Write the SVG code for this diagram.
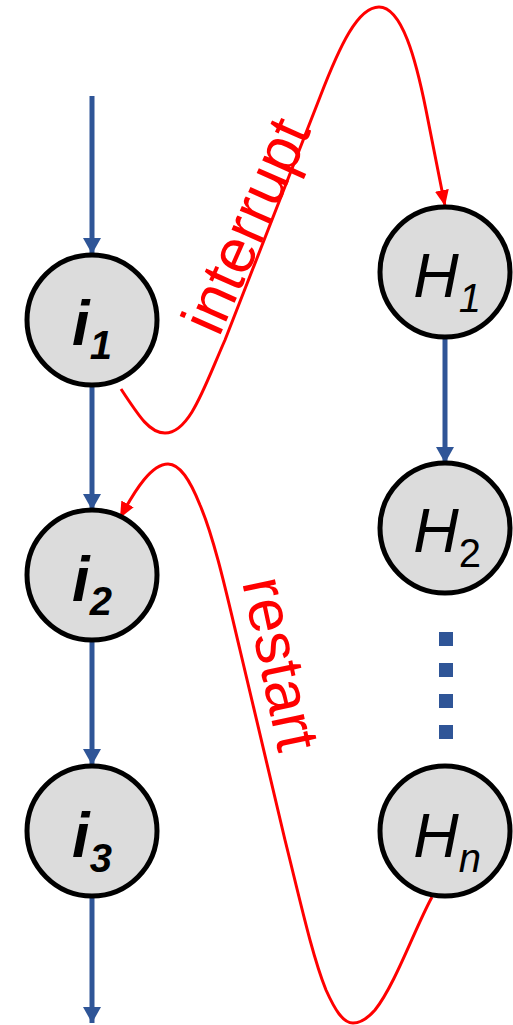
<svg xmlns="http://www.w3.org/2000/svg" width="513" height="1025" viewBox="0 0 513 1025">
<style>
.node circle{fill:#dcdcdc;stroke:#000;stroke-width:5}
.lbl{font-family:"Liberation Sans",Arial,sans-serif;font-size:63px;font-style:italic;fill:#000}
.b{font-weight:bold}
.sub{font-size:40px}
.blue{stroke:#2F5597;stroke-width:5;fill:none}
.red{stroke:#FF0000;stroke-width:3;fill:none}
.rlbl{font-family:"Liberation Sans",Arial,sans-serif;font-size:62px;fill:#FF0000}
</style>
<defs>
<marker id="ab" markerUnits="userSpaceOnUse" markerWidth="18" markerHeight="18" refX="16" refY="9" orient="auto" viewBox="0 0 18 18"><path d="M0,0 L16,9 L0,18 Z" fill="#2F5597"/></marker>
<marker id="ar" markerUnits="userSpaceOnUse" markerWidth="16" markerHeight="14" refX="16" refY="7" orient="auto" viewBox="0 0 16 14"><path d="M0,0 L16,7 L0,14 Z" fill="#FF0000"/></marker>
</defs>
<g id="connectors">
<line class="blue" x1="92" y1="96" x2="92" y2="254" marker-end="url(#ab)"/>
<line class="blue" x1="92" y1="386" x2="92" y2="510" marker-end="url(#ab)"/>
<line class="blue" x1="92" y1="641" x2="92" y2="765" marker-end="url(#ab)"/>
<line class="blue" x1="92" y1="897" x2="92" y2="1023" marker-end="url(#ab)"/>
<line class="blue" x1="445" y1="338" x2="445" y2="463" marker-end="url(#ab)"/>
<line x1="446" y1="632" x2="446" y2="739" stroke="#2F5597" stroke-width="14" stroke-dasharray="14 17"/>
<path id="interrupt" class="red" d="M121,389 C140,418 150,433 165,433 C190,433 205,385 225,340 L320,97 C340,45 358,7 379,7 C402,7 416,60 426,110 L445,206" marker-end="url(#ar)"/>
<path id="restart" class="red" d="M432,897 C415,928 395,985 375,1010 C368,1018 360,1023 353,1023 C343,1023 335,1010 326,990 C312,955 300,900 285,840 L240,650 C228,600 215,540 200,505 C190,480 180,464 168,464 C152,464 136,488 120,518" marker-end="url(#ar)"/>
<text class="rlbl" font-size="66" transform="translate(219,338) rotate(-66)">interrupt</text>
<text class="rlbl" transform="translate(242,582) rotate(78)">restart</text>
</g>
<g id="i1" class="node"><circle cx="92" cy="320" r="65"/><text class="lbl b" x="92" y="345" text-anchor="middle">i<tspan class="sub" dy="14">1</tspan></text></g>
<g id="i2" class="node"><circle cx="92" cy="575" r="65"/><text class="lbl b" x="92" y="601" text-anchor="middle">i<tspan class="sub" dy="14">2</tspan></text></g>
<g id="i3" class="node"><circle cx="92" cy="831" r="65"/><text class="lbl b" x="92" y="857" text-anchor="middle">i<tspan class="sub" dy="15">3</tspan></text></g>
<g id="H1" class="node"><circle cx="445" cy="272" r="65"/><text class="lbl" x="447" y="297" text-anchor="middle">H<tspan class="sub" dy="15">1</tspan></text></g>
<g id="H2" class="node"><circle cx="445" cy="528" r="65"/><text class="lbl" x="447" y="552" text-anchor="middle">H<tspan class="sub" dy="15" font-style="normal">2</tspan></text></g>
<g id="Hn" class="node"><circle cx="445" cy="831" r="65"/><text class="lbl" x="447" y="857" text-anchor="middle">H<tspan class="sub" dy="15">n</tspan></text></g>
</svg>
